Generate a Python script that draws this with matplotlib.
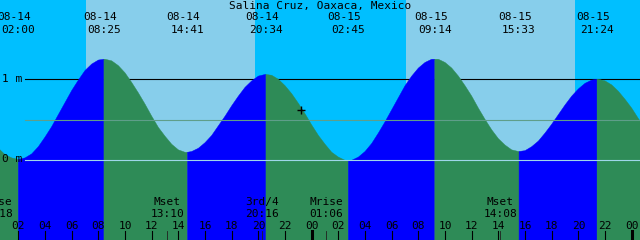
import matplotlib.pyplot as plt
import numpy as np

station = "Salina Cruz, Oaxaca, Mexico"

# tide height (m), hours counted from 08-14 00:00
hours = np.arange(0, 50)
level = [0.24, 0.06, 0.00, 0.07, 0.28, 0.56, 0.86, 1.11, 1.24,
         1.23, 1.08, 0.83, 0.54, 0.29, 0.12,
         0.10, 0.21, 0.42, 0.67, 0.90, 1.04,
         1.05, 0.92, 0.70, 0.43, 0.19, 0.03,
         -0.01, 0.10, 0.33, 0.62, 0.92, 1.14, 1.25,
         1.21, 1.04, 0.79, 0.50, 0.26, 0.12,
         0.11, 0.23, 0.44, 0.68, 0.88, 0.99,
         0.98, 0.85, 0.64, 0.39]
# same curve read at the half hours
half_hours = np.arange(0.5, 49, 1)
half_level = [0.14, 0.02, 0.02, 0.16, 0.41, 0.71, 0.99, 1.19,
              1.25, 1.17, 0.96, 0.69, 0.40, 0.19, 0.09,
              0.14, 0.30, 0.54, 0.79, 0.98, 1.06,
              1.00, 0.82, 0.57, 0.30, 0.09, -0.01,
              0.03, 0.20, 0.47, 0.77, 1.04, 1.21,
              1.25, 1.14, 0.92, 0.64, 0.37, 0.18, 0.10,
              0.16, 0.33, 0.56, 0.79, 0.95,
              1.00, 0.93, 0.75, 0.51]

# high / low waters
event_hours = [2.0, 8 + 25/60, 14 + 41/60, 20 + 34/60,
               26 + 45/60, 33 + 14/60, 39 + 33/60, 45 + 24/60]
event_level = [0.00, 1.25, 0.09, 1.06, -0.01, 1.25, 0.10, 1.00]
event_kind = ['L', 'H', 'L', 'H', 'L', 'H', 'L', 'H']
event_date = ['08-14', '08-14', '08-14', '08-14', '08-15', '08-15', '08-15', '08-15']
event_time = ['02:00', '08:25', '14:41', '20:34', '02:45', '09:14', '15:33', '21:24']

# moon events
moon_hours = [0.3, 13 + 10/60, 20 + 16/60, 25 + 6/60, 38 + 8/60]
moon_name = ['Mrise', 'Mset', '3rd/4', 'Mrise', 'Mset']
moon_time = ['00:18', '13:10', '20:16', '01:06', '14:08']

# sun
sunrise = [7 + 4/60, 31 + 4/60]
sunset = [19 + 45/60, 43 + 45/60]

mark_hour, mark_level = 23.22, 0.62

t0 = 0.62
t1 = t0 + 48
px = 48 / 640.0  # hours per pixel

fig = plt.figure(figsize=(6.4, 2.4), dpi=100)
ax = fig.add_axes([0, 0, 1, 1])
ax.set_xlim(t0, t1)
ax.set_ylim((159.5 - 240) / 80.2, 159.5 / 80.2)
ax.axis('off')

# sky
ax.axvspan(t0 - 5, t1 + 5, color='#00bfff', lw=0, zorder=0)
for a, b in zip(sunrise, sunset):
    ax.axvspan(a, b, color='#87ceeb', lw=0, zorder=0)

# 1 m line sits behind the water
ax.plot([t0 + 25 * px, t1], [1, 1], color='black', lw=0.8, zorder=1)

# water, blue while rising, green while falling
t_all = np.concatenate([hours, half_hours, event_hours])
h_all = np.concatenate([level, half_level, event_level])
o = np.argsort(t_all)
t_all, h_all = t_all[o], h_all[o]
bounds = [-10] + event_hours + [60]
for i in range(len(bounds) - 1):
    m = (t_all >= bounds[i]) & (t_all <= bounds[i + 1])
    rising = i < len(event_kind) and event_kind[i] == 'H'
    c = '#0000ff' if rising else '#2e8b57'
    ax.fill_between(t_all[m], h_all[m], -3, color=c, lw=0.3, ec=c, zorder=2)

ax.plot([t0 + 25 * px, t1], [0.489, 0.489], color='#5f9e8a', lw=0.8, zorder=3)
ax.plot([t0 + 25 * px, t1], [0, 0], color='#9fd6ea', lw=0.8, zorder=3)

font = dict(family='DejaVu Sans Mono', fontsize=8, color='black')
ax.text(t0 + 2 * px, 1, '1 m', ha='left', va='center', zorder=4, **font)
ax.text(t0 + 2 * px, 0, '0 m', ha='left', va='center', zorder=4, **font)

ax.plot([mark_hour], [mark_level], marker='+', ms=6, mew=1, color='black', zorder=5)

tr = ax.get_xaxis_transform()
ax.text((t0 + t1) / 2, 1 - 6 / 240, station, ha='center', va='center',
        transform=tr, zorder=5, **font)
for x, d, s in zip(event_hours, event_date, event_time):
    ax.text(x - 4 * px, 1 - 17 / 240, d, ha='center', va='center', transform=tr, zorder=5, **font)
    ax.text(x, 1 - 30 / 240, s, ha='center', va='center', transform=tr, zorder=5, **font)

for x, n, s in zip(moon_hours, moon_name, moon_time):
    ax.text(x, 1 - 202 / 240, n, ha='center', va='center', transform=tr, zorder=5, **font)
    ax.text(x, 1 - 214 / 240, s, ha='center', va='center', transform=tr, zorder=5, **font)
    ax.plot([x, x], [0, 9 / 240], color='#202020', lw=0.6, transform=tr, zorder=5)

for h in range(2, 50, 2):
    ax.text(h, 1 - 226 / 240, '%02d' % (h % 24), ha='center', va='center',
            transform=tr, zorder=5, **font)
    ax.plot([h, h], [0, 9 / 240], color='black', lw=2.2 if h % 24 == 0 else 0.8,
            transform=tr, zorder=5)

fig.savefig('out.png', dpi=100)
